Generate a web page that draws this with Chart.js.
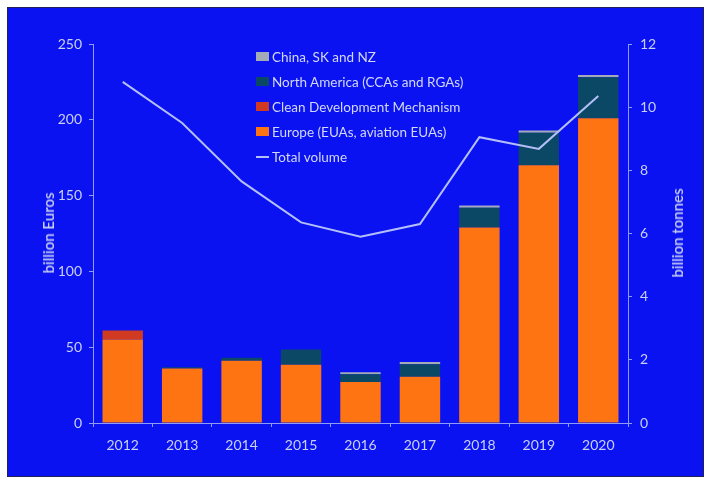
<!DOCTYPE html>
<html>
<head>
<meta charset="utf-8">
<script src="https://cdn.jsdelivr.net/npm/chart.js@4"></script>
<style>
  html, body { margin: 0; padding: 0; background: #ffffff; }
  #frame {
    position: absolute; left: 7px; top: 7px; width: 697px; height: 470px;
    background: #0a12f2; box-sizing: border-box; border: 1px solid #20205a;
  }
  #chart { position: absolute; left: -1px; top: -1px; }
  .axis-title {
    position: absolute; color: #c9d0f4; font: 600 15px Lato, "Open Sans", sans-serif;
    white-space: nowrap; transform: translate(-50%, -50%) rotate(-90deg);
  }
  #legend {
    position: absolute; left: 248px; top: 36px; color: #d2d8f6;
    font: 13.5px Lato, "Open Sans", sans-serif;
  }
  #legend div { height: 25px; line-height: 18px; display: flex; align-items: center; }
  #legend span.sw { display: inline-block; width: 13px; height: 9px; margin-right: 3px; }
  #legend span.ln { display: inline-block; width: 13px; height: 2px; margin-right: 3px; }
</style>
</head>
<body>
<div id="frame">
  <canvas id="chart" width="697" height="470"></canvas>
  <div class="axis-title" style="left:40px; top:225px;">billion Euros</div>
  <div class="axis-title" style="left:669px; top:225px;">billion tonnes</div>
  <div id="legend"></div>
</div>
<script>
// Carbon market value by segment (billion EUR) and total traded volume (billion tonnes)
const years = ['2012', '2013', '2014', '2015', '2016', '2017', '2018', '2019', '2020'];
const europe = [55, 36, 41, 38.5, 27, 30.5, 129, 170, 201];
const cdm = [6, 0, 0, 0, 0, 0, 0, 0, 0];
const northAmerica = [0, 0.8, 2, 10, 5.2, 8.3, 13, 21.5, 27];
const chinaSkNz = [0, 0, 0, 0, 1.2, 1.4, 1.5, 1.5, 1.5];
const totalVolume = [10.8, 9.5, 7.65, 6.35, 5.9, 6.3, 9.05, 8.68, 10.35];
const leftTicks = [0, 50, 100, 150, 200, 250];
const rightTicks = [0, 2, 4, 6, 8, 10, 12];

const tickColor = '#c9d0f4';
const axisColor = '#8f9cf6';
const font = { family: 'Lato, "Open Sans", sans-serif', size: 14 };

const series = [
  { label: 'Europe (EUAs, aviation EUAs)', data: europe, color: '#ff7412' },
  { label: 'Clean Development Mechanism', data: cdm, color: '#cf3a20' },
  { label: 'North America (CCAs and RGAs)', data: northAmerica, color: '#0b4866' },
  { label: 'China, SK and NZ', data: chinaSkNz, color: '#a3abb8' }
];

const datasets = series.map(s => ({
  type: 'bar', label: s.label, data: s.data, backgroundColor: s.color,
  yAxisID: 'y', stack: 'value', barPercentage: 0.68, categoryPercentage: 1.0, order: 2
}));
datasets.push({
  type: 'line', label: 'Total volume', data: totalVolume, yAxisID: 'y1',
  borderColor: '#b4bff8', borderWidth: 2, pointRadius: 0, tension: 0, order: 1
});

new Chart(document.getElementById('chart'), {
  data: { labels: years, datasets },
  options: {
    responsive: false, animation: false,
    layout: { padding: { top: 37, left: 0, right: 0, bottom: 0 } },
    plugins: { legend: { display: false }, tooltip: { enabled: false } },
    scales: {
      x: {
        stacked: true,
        grid: { display: true, drawOnChartArea: false, color: axisColor, tickLength: 4, offset: true },
        border: { display: true, color: axisColor },
        ticks: { color: tickColor, font, padding: 10 },
        afterFit: s => { s.height = 54; }
      },
      y: {
        stacked: true, position: 'left', min: 0, max: 250,
        afterBuildTicks: s => { s.ticks = leftTicks.map(v => ({ value: v })); },
        grid: { display: true, drawOnChartArea: false, color: axisColor, tickLength: 4 },
        border: { display: true, color: axisColor },
        ticks: { color: tickColor, font, padding: 7 },
        afterFit: s => { s.width = 86; }
      },
      y1: {
        position: 'right', min: 0, max: 12,
        afterBuildTicks: s => { s.ticks = rightTicks.map(v => ({ value: v })); },
        grid: { display: true, drawOnChartArea: false, color: axisColor, tickLength: 4 },
        border: { display: true, color: axisColor },
        ticks: { color: tickColor, font, padding: 8 },
        afterFit: s => { s.width = 76; }
      }
    }
  }
});

// Legend, listed top segment first, then the volume line
const legend = document.getElementById('legend');
[...series].reverse().forEach(s => {
  const row = document.createElement('div');
  row.innerHTML = '<span class="sw" style="background:' + s.color + '"></span>' + s.label;
  legend.appendChild(row);
});
const lineRow = document.createElement('div');
lineRow.innerHTML = '<span class="ln" style="background:#b4bff8"></span>Total volume';
legend.appendChild(lineRow);
</script>
</body>
</html>
